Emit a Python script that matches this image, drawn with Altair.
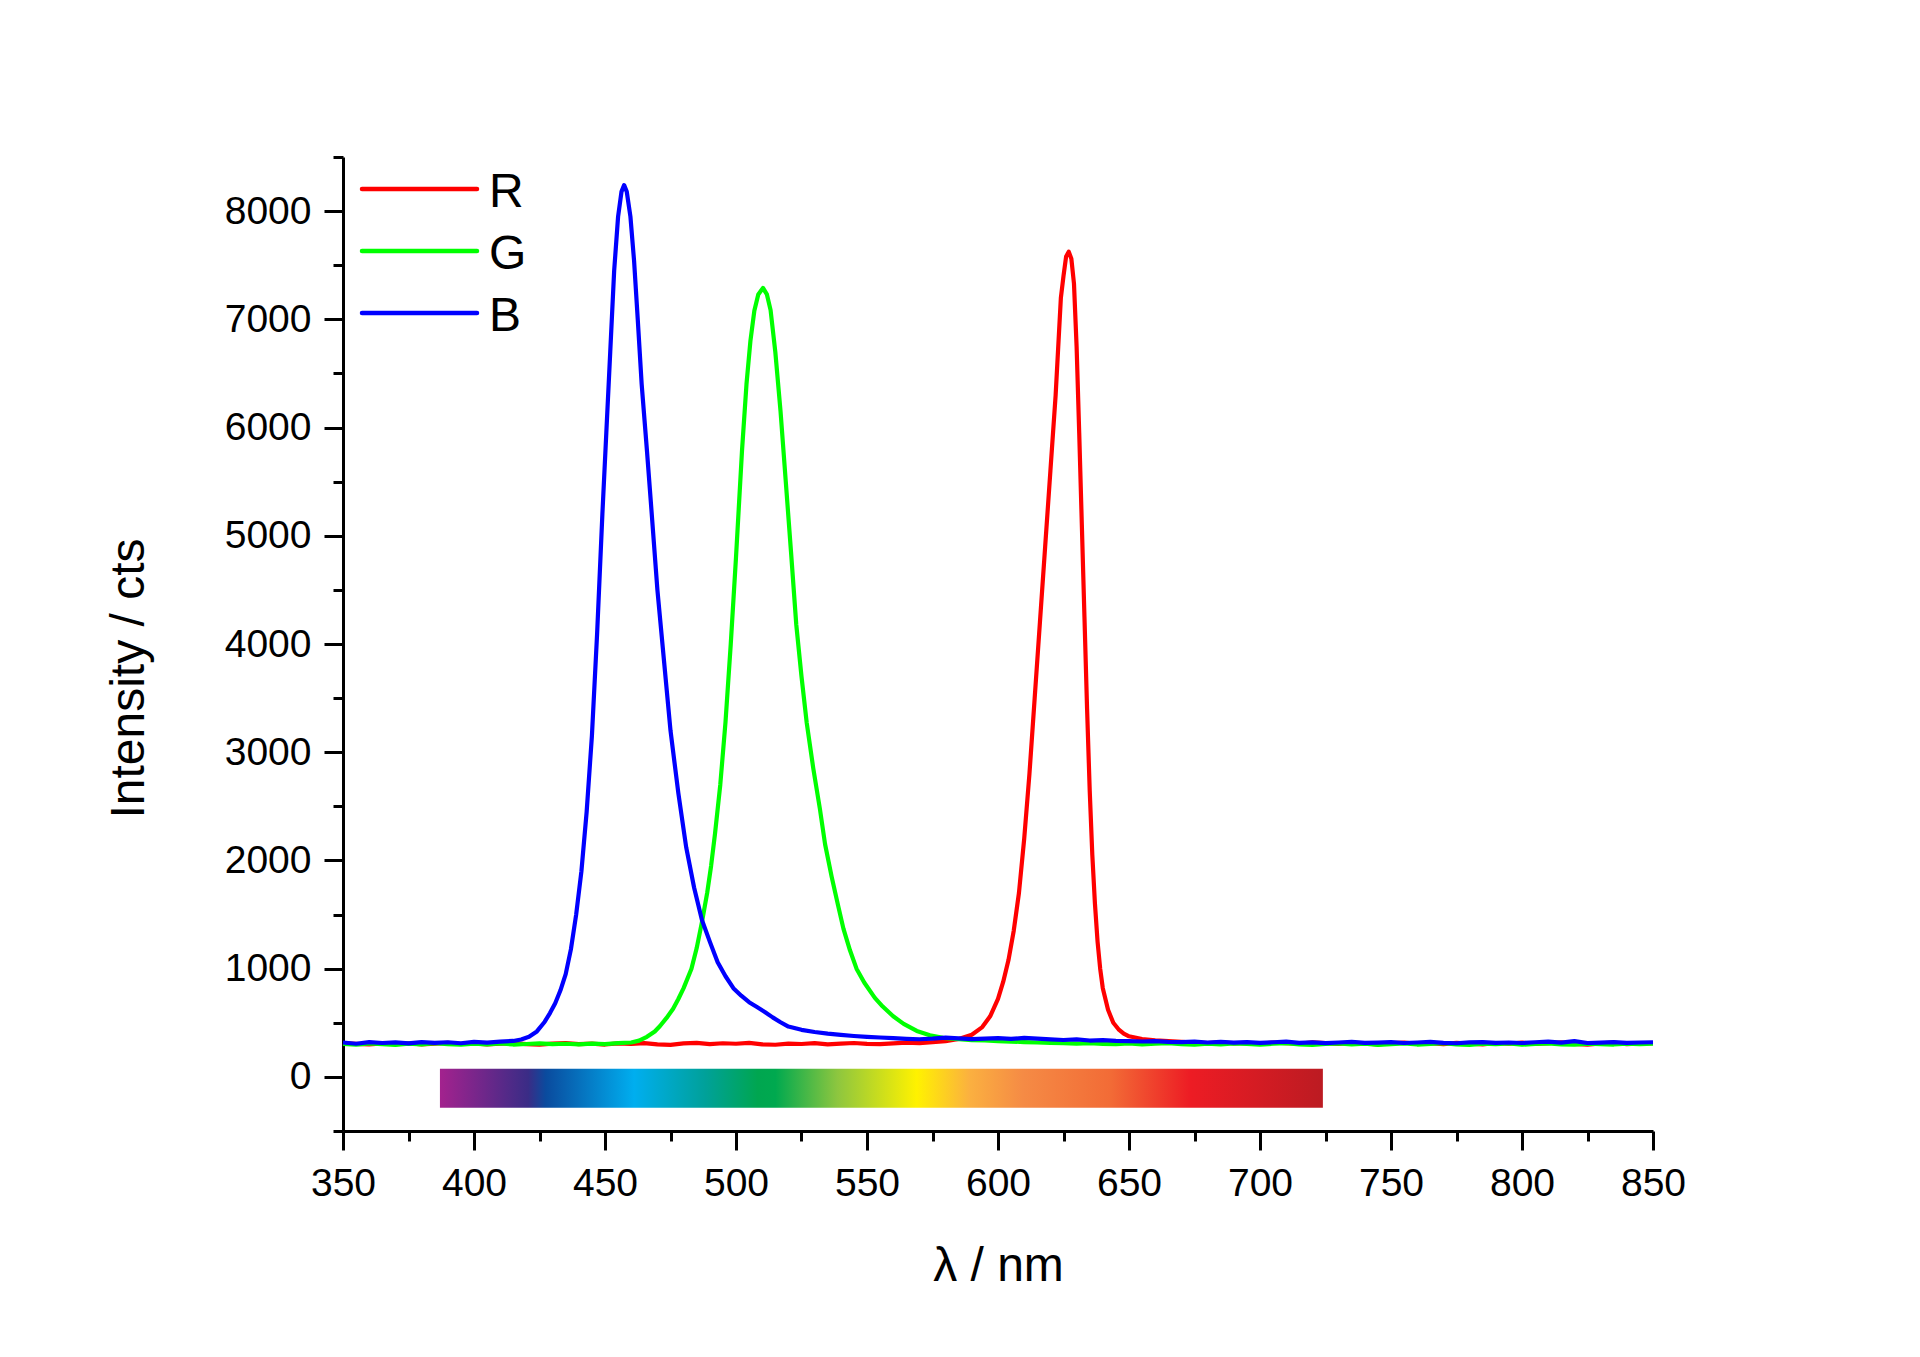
import altair as alt
import pandas as pd

FONT = "Liberation Sans"

SERIES = ["R", "G", "B"]
COLORS = ["#ff0000", "#00ff00", "#0000ff"]

R_WL = [350, 355, 360, 365, 370, 375, 380, 385, 390, 395, 400, 405, 410, 415, 420, 425, 430, 435, 440, 445,
        450, 455, 460, 465, 470, 475, 480, 485, 490, 495, 500, 505, 510, 515, 520, 525, 530, 535, 540, 545,
        550, 555, 560, 565, 570, 575, 580, 585, 590, 594, 597, 600, 602, 604, 606, 608, 610, 612, 614, 616,
        618, 620, 622, 624, 625, 626, 627, 628, 629, 630, 631, 632, 633, 634, 635, 636, 637, 638, 639, 640,
        642, 644, 646, 648, 650, 655, 660, 665, 670, 675, 680, 685, 690, 695, 700, 705, 710, 715, 720, 725,
        730, 735, 740, 745, 750, 755, 760, 765, 770, 775, 780, 785, 790, 795, 800, 805, 810, 815, 820, 825,
        830, 835, 840, 845, 850]
R_I = [312, 305, 300, 309, 303, 311, 301, 308, 314, 304, 309, 300, 306, 312, 303, 298, 308, 313, 302, 307,
       299, 310, 305, 312, 300, 296, 309, 314, 303, 311, 306, 315, 301, 297, 308, 304, 312, 300, 307, 313,
       305, 302, 310, 316, 312, 320, 330, 350, 390, 460, 560, 720, 880, 1080, 1350, 1700, 2200, 2800, 3500, 4200,
       4900, 5600, 6300, 7200, 7400, 7580, 7625, 7560, 7330, 6750, 5950, 5100, 4250, 3400, 2650, 2050, 1600, 1250, 1000, 820,
       620, 500, 440, 400, 375, 350, 338, 330, 324, 318, 312, 320, 309, 315, 305, 318, 311, 306, 320, 312,
       304, 316, 309, 300, 312, 318, 305, 311, 302, 314, 308, 300, 313, 306, 317, 304, 311, 320, 305, 298,
       310, 316, 303, 309, 312]

G_WL = [350, 355, 360, 365, 370, 375, 380, 385, 390, 395, 400, 405, 410, 415, 420, 425, 430, 435, 440, 445,
        450, 455, 460, 463, 466, 469, 471, 473.5, 476, 478, 480, 483, 485, 487, 489, 490.5, 492, 494, 496, 498,
        500, 502.3, 504, 505.5, 507, 508.5, 510.3, 511.8, 513.2, 515, 517, 519, 521, 523, 525, 527, 529.5, 532, 534, 536.5,
        539, 541, 543.5, 546, 549, 553, 556, 560, 564, 569, 574, 579, 585, 590, 595, 600, 605, 610, 615, 620,
        625, 630, 635, 640, 645, 650, 655, 660, 665, 670, 675, 680, 685, 690, 695, 700, 705, 710, 715, 720,
        725, 730, 735, 740, 745, 750, 755, 760, 765, 770, 775, 780, 785, 790, 795, 800, 805, 810, 815, 820,
        825, 830, 835, 840, 845, 850]
G_I = [305, 298, 310, 302, 296, 307, 300, 311, 303, 297, 306, 301, 309, 299, 304, 310, 302, 306, 300, 308,
       303, 312, 318, 335, 370, 420, 470, 545, 630, 720, 820, 1000, 1190, 1430, 1700, 1950, 2250, 2700, 3280, 4000,
       4800, 5790, 6400, 6800, 7080, 7230, 7290, 7230, 7085, 6700, 6150, 5500, 4850, 4180, 3700, 3270, 2850, 2480, 2150, 1850,
       1580, 1370, 1170, 1000, 870, 730, 650, 560, 490, 425, 385, 360, 348, 340, 336, 330, 326, 322, 318, 315,
       311, 308, 312, 305, 302, 309, 300, 306, 311, 303, 298, 307, 301, 310, 304, 298, 306, 312, 301, 296,
       305, 310, 300, 307, 296, 303, 309, 299, 305, 311, 300, 296, 306, 302, 309, 298, 304, 310, 301, 297,
       306, 303, 299, 308, 302, 306]

B_WL = [350, 355, 360, 365, 370, 375, 380, 385, 390, 395, 400, 405, 410, 415, 418, 421, 424, 427, 429, 431,
        433, 435, 437, 439, 441, 443, 445, 447, 449, 450.5, 452, 453.5, 455, 456.3, 457.3, 458.3, 459.7, 461.1, 462.5, 464,
        466, 468, 470, 472.5, 475, 478, 481, 484, 487, 490, 493, 496, 499, 502, 505, 508, 511, 514, 517, 520,
        525, 530, 535, 540, 545, 550, 555, 560, 565, 570, 575, 580, 585, 590, 595, 600, 605, 610, 615, 620,
        625, 630, 635, 640, 645, 650, 655, 660, 665, 670, 675, 680, 685, 690, 695, 700, 705, 710, 715, 720,
        725, 730, 735, 740, 745, 750, 755, 760, 765, 770, 775, 780, 785, 790, 795, 800, 805, 810, 815, 820,
        825, 830, 835, 840, 845, 850]
B_I = [318, 306, 321, 313, 319, 309, 322, 315, 320, 311, 324, 317, 326, 332, 345, 370, 420, 510, 590, 680,
       800, 950, 1180, 1500, 1900, 2450, 3150, 4100, 5200, 5950, 6700, 7450, 7950, 8180, 8240, 8180, 7950, 7540, 7000, 6400,
       5790, 5150, 4500, 3850, 3200, 2620, 2120, 1750, 1450, 1250, 1060, 930, 820, 750, 690, 645, 600, 550, 505, 465,
       435, 415, 400, 388, 378, 370, 364, 358, 352, 348, 353, 362, 356, 349, 354, 358, 351, 360, 353, 346,
       341, 346, 336, 339, 333, 331, 327, 330, 324, 321, 326, 318, 323, 316, 322, 314, 320, 325, 315, 319,
       312, 318, 323, 314, 317, 321, 313, 318, 324, 315, 311, 319, 322, 314, 318, 313, 320, 326, 316, 330,
       313, 317, 321, 314, 318, 320]

X_MAJOR = [350, 400, 450, 500, 550, 600, 650, 700, 750, 800, 850]
X_MINOR = [375, 425, 475, 525, 575, 625, 675, 725, 775, 825]
Y_MAJOR = [0, 1000, 2000, 3000, 4000, 5000, 6000, 7000, 8000]
Y_MINOR = [-500, 500, 1500, 2500, 3500, 4500, 5500, 6500, 7500, 8500]

SPEC_X = [387, 724]
SPEC_Y = [-285, 75]
SPEC_OFFSETS = [0.0, 0.10, 0.12, 0.22, 0.30, 0.36, 0.38, 0.45, 0.54, 0.60, 0.66, 0.76, 0.85, 1.0]
SPEC_COLORS = ["#a3228e", "#3a2c86", "#0a4b9e", "#00aeef", "#00a19a", "#00a650", "#00a94f", "#8dc63f",
               "#fff200", "#fbb040", "#f58b45", "#f26b36", "#ed1c24", "#bc1b22"]

rows = []
for name, wl, inten in [("R", R_WL, R_I), ("G", G_WL, G_I), ("B", B_WL, B_I)]:
    for w, v in zip(wl, inten):
        rows.append({"series": name, "wl": w, "I": v})
df = pd.DataFrame(rows)

spec_df = pd.DataFrame({"x": [SPEC_X[0]], "x2": [SPEC_X[1]], "y": [SPEC_Y[0]], "y2": [SPEC_Y[1]]})
leg_df = pd.DataFrame({"series": SERIES})

xscale = alt.Scale(domain=[350, 850], nice=False, zero=False)
yscale = alt.Scale(domain=[-500, 8500], nice=False, zero=False)
cscale = alt.Scale(domain=SERIES, range=COLORS)

common_axis = dict(grid=False, tickColor="black", tickWidth=3, domainColor="black", domainWidth=3,
                   labelFont=FONT, labelColor="black", labelFontSize=39, labelFlush=False,
                   labelOverlap=False, labelBound=False, format="d")

x_major = alt.Axis(orient="bottom", values=X_MAJOR, tickSize=19, labelPadding=14,
                   title="λ / nm", titleFont=FONT, titleFontSize=48, titleFontWeight="normal",
                   titleColor="black", titleX=655, titleY=149, titleBaseline="alphabetic",
                   titleAlign="center", **common_axis)
x_minor = alt.Axis(orient="bottom", values=X_MINOR, tickSize=10, labels=False, domain=False,
                   title=None, grid=False, tickColor="black", tickWidth=3)
y_major = alt.Axis(orient="left", values=Y_MAJOR, tickSize=19, labelPadding=13,
                   title="Intensity / cts", titleFont=FONT, titleFontSize=48, titleFontWeight="normal",
                   titleColor="black", titleAngle=270, titleX=-200, titleY=521,
                   titleBaseline="alphabetic", titleAlign="center", **common_axis)
y_minor = alt.Axis(orient="left", values=Y_MINOR, tickSize=10, labels=False, domain=False,
                   title=None, grid=False, tickColor="black", tickWidth=3)

gradient = alt.Gradient(
    gradient="linear",
    stops=[alt.GradientStop(offset=o, color=c) for o, c in zip(SPEC_OFFSETS, SPEC_COLORS)],
    x1=0, x2=1, y1=0, y2=0,
)

spectrum = alt.Chart(spec_df).mark_rect(fill=gradient).encode(
    x=alt.X("x:Q", scale=xscale, axis=x_minor),
    x2="x2:Q",
    y=alt.Y("y:Q", scale=yscale, axis=y_minor),
    y2="y2:Q",
)


def line_layer(name, xaxis, yaxis):
    return alt.Chart(df).transform_filter(alt.datum.series == name).mark_line(
        strokeWidth=4.2, strokeJoin="round"
    ).encode(
        x=alt.X("wl:Q", scale=xscale, axis=xaxis),
        y=alt.Y("I:Q", scale=yscale, axis=yaxis),
        color=alt.Color("series:N", scale=cscale, legend=None),
    )


line_r = line_layer("R", x_major, y_major)
line_g = line_layer("G", None, None)
line_b = line_layer("B", None, None)

main = alt.layer(spectrum, line_r, line_g, line_b).resolve_axis(x="independent", y="independent")

leg_y = alt.Y("series:N", scale=alt.Scale(type="point", domain=SERIES, range=[32, 156], padding=0), axis=None)
leg_rule = alt.Chart(leg_df).mark_rule(strokeWidth=4.5, strokeCap="round").encode(
    x=alt.value(19), x2=alt.value(134), y=leg_y,
    color=alt.Color("series:N", scale=cscale, legend=None),
)
leg_text = alt.Chart(leg_df).mark_text(
    align="left", baseline="alphabetic", dy=18, fontSize=48, font=FONT, color="black"
).encode(x=alt.value(146), y=leg_y, text="series:N")
legend = alt.layer(leg_rule, leg_text)

chart = alt.layer(main, legend).resolve_scale(y="independent").properties(
    width=1310, height=974,
    autosize=alt.AutoSizeParams(type="none"),
    padding={"left": 335, "top": 149, "right": 240, "bottom": 200},
    background="white",
).configure_view(stroke=None)

chart.save("out.html", embed_options={"renderer": "svg", "actions": False})
